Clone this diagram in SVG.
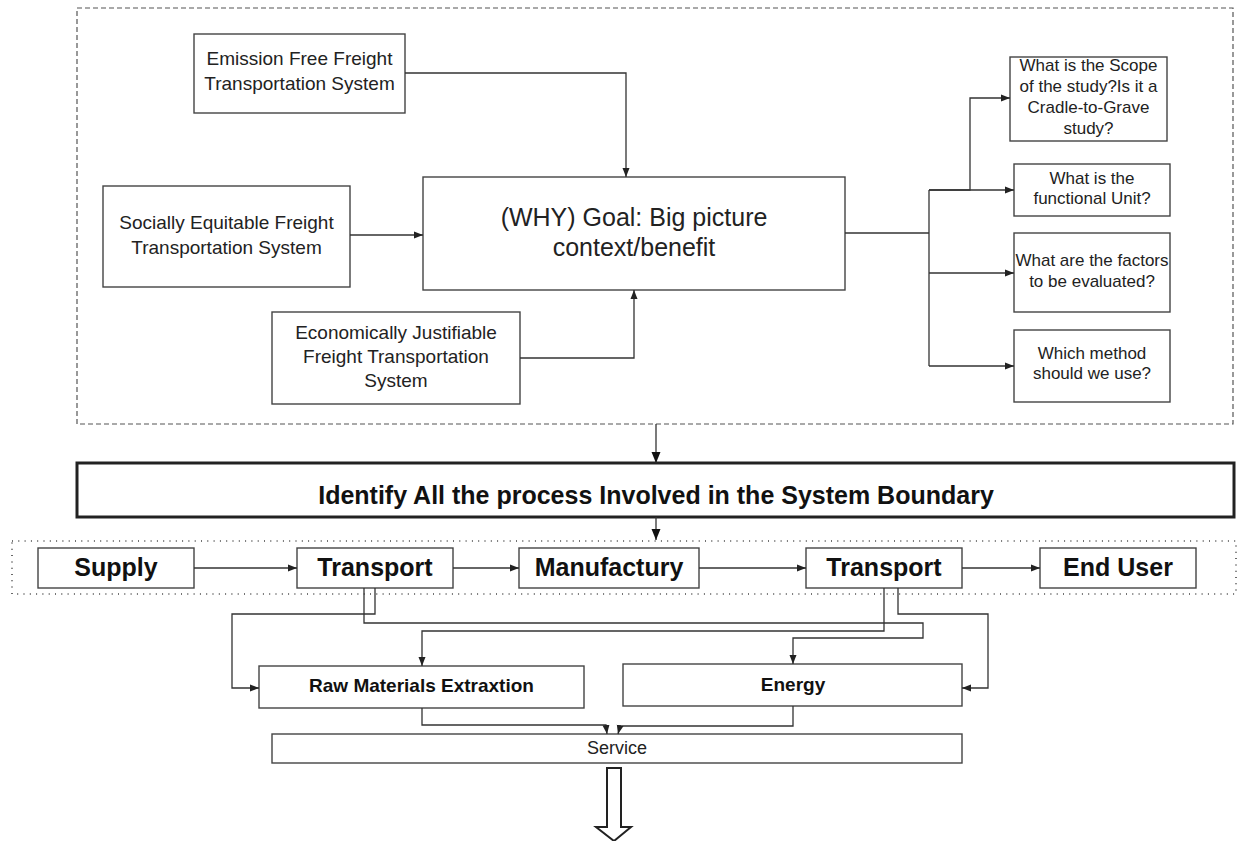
<svg xmlns="http://www.w3.org/2000/svg" width="1239" height="841" viewBox="0 0 1239 841">
<defs>
<style>
.box{fill:#fff;stroke:#444;stroke-width:1.4}
.t{font-family:"Liberation Sans",Arial,sans-serif;fill:#222;text-anchor:middle}
.b{font-weight:bold;fill:#111}
.c{fill:none;stroke:#333;stroke-width:1.3}
</style>
<marker id="ar" markerWidth="10" markerHeight="8" refX="9" refY="4" orient="auto" markerUnits="userSpaceOnUse">
<path d="M0,0.5 L9,4 L0,7.5 Z" fill="#222"/>
</marker>
<marker id="arb" markerWidth="12" markerHeight="10" refX="11" refY="5" orient="auto" markerUnits="userSpaceOnUse">
<path d="M0,0.5 L11,5 L0,9.5 Z" fill="#111"/>
</marker>
</defs>
<rect width="1239" height="841" fill="#fff"/>

<g id="boundary-top">
<rect x="77" y="8" width="1156" height="416" fill="none" stroke="#555" stroke-width="1.2" stroke-dasharray="5 3"/>
</g>
<g id="boundary-process">
<rect x="12" y="541" width="1224" height="53" fill="none" stroke="#444" stroke-width="1.6" stroke-dasharray="1 5.3"/>
</g>

<g id="emission">
<rect class="box" x="194" y="34" width="211" height="79"/>
<text class="t" x="299.5" y="65" font-size="19">Emission Free Freight</text>
<text class="t" x="299.5" y="90" font-size="19">Transportation System</text>
</g>
<g id="socially">
<rect class="box" x="103" y="186" width="247" height="101"/>
<text class="t" x="226.5" y="229" font-size="19">Socially Equitable Freight</text>
<text class="t" x="226.5" y="254" font-size="19">Transportation System</text>
</g>
<g id="economically">
<rect class="box" x="272" y="312" width="248" height="92"/>
<text class="t" x="396" y="339" font-size="19">Economically Justifiable</text>
<text class="t" x="396" y="363" font-size="19">Freight Transportation</text>
<text class="t" x="396" y="387" font-size="19">System</text>
</g>
<g id="goal">
<rect class="box" x="423" y="177" width="422" height="113"/>
<text class="t" x="634" y="226" font-size="25">(WHY) Goal: Big picture</text>
<text class="t" x="634" y="256" font-size="25">context/benefit</text>
</g>
<g id="scope">
<rect class="box" x="1010" y="57" width="157" height="84"/>
<text class="t" x="1088.5" y="71" font-size="17">What is the Scope</text>
<text class="t" x="1088.5" y="92" font-size="17">of the study?Is it a</text>
<text class="t" x="1088.5" y="113" font-size="17">Cradle-to-Grave</text>
<text class="t" x="1088.5" y="134" font-size="17">study?</text>
</g>
<g id="unit">
<rect class="box" x="1014" y="164" width="156" height="52"/>
<text class="t" x="1092" y="184" font-size="17">What is the</text>
<text class="t" x="1092" y="204" font-size="17">functional Unit?</text>
</g>
<g id="factors">
<rect class="box" x="1014" y="233" width="156" height="79"/>
<text class="t" x="1092" y="266" font-size="17">What are the factors</text>
<text class="t" x="1092" y="287" font-size="17">to be evaluated?</text>
</g>
<g id="method">
<rect class="box" x="1014" y="330" width="156" height="72"/>
<text class="t" x="1092" y="359" font-size="17">Which method</text>
<text class="t" x="1092" y="379" font-size="17">should we use?</text>
</g>

<g id="identify">
<rect x="77" y="463" width="1157" height="54" fill="#fff" stroke="#222" stroke-width="3"/>
<text class="t b" x="656" y="504" font-size="25">Identify All the process Involved in the System Boundary</text>
</g>

<g id="supply">
<rect class="box" x="38" y="548" width="156" height="40"/>
<text class="t b" x="116" y="576" font-size="25">Supply</text>
</g>
<g id="transport1">
<rect class="box" x="297" y="548" width="156" height="40"/>
<text class="t b" x="375" y="576" font-size="25">Transport</text>
</g>
<g id="manufactury">
<rect class="box" x="519" y="548" width="180" height="40"/>
<text class="t b" x="609" y="576" font-size="25">Manufactury</text>
</g>
<g id="transport2">
<rect class="box" x="806" y="548" width="156" height="40"/>
<text class="t b" x="884" y="576" font-size="25">Transport</text>
</g>
<g id="enduser">
<rect class="box" x="1040" y="548" width="156" height="40"/>
<text class="t b" x="1118" y="576" font-size="25">End User</text>
</g>

<g id="raw">
<rect class="box" x="259" y="666" width="325" height="42"/>
<text class="t b" x="421.5" y="692" font-size="19">Raw Materials Extraxtion</text>
</g>
<g id="energy">
<rect class="box" x="623" y="664" width="339" height="42"/>
<text class="t b" x="793" y="691" font-size="19">Energy</text>
</g>
<g id="service">
<rect class="box" x="272" y="734" width="690" height="29"/>
<text class="t" x="617" y="754" font-size="18">Service</text>
</g>

<g id="connectors">
<path class="c" d="M405 73 H626 V177" marker-end="url(#ar)"/>
<path class="c" d="M350 235 H423" marker-end="url(#ar)"/>
<path class="c" d="M520 358 H634 V290" marker-end="url(#ar)"/>
<path class="c" d="M845 233 H929"/>
<path class="c" d="M929 190 V366"/>
<path class="c" d="M929 190 H970 V98 H1010" marker-end="url(#ar)"/>
<path class="c" d="M929 190 H1014" marker-end="url(#ar)"/>
<path class="c" d="M929 273 H1014" marker-end="url(#ar)"/>
<path class="c" d="M929 366 H1014" marker-end="url(#ar)"/>
<path class="c" d="M656 424 V463" stroke-width="2.2" marker-end="url(#arb)"/>
<path class="c" d="M656 517 V540" stroke-width="2.2" marker-end="url(#arb)"/>
<path class="c" d="M194 568 H297" marker-end="url(#ar)"/>
<path class="c" d="M453 568 H519" marker-end="url(#ar)"/>
<path class="c" d="M699 568 H806" marker-end="url(#ar)"/>
<path class="c" d="M962 568 H1040" marker-end="url(#ar)"/>
<path class="c" d="M375 588 V614 H232 V688 H259" marker-end="url(#ar)"/>
<path class="c" d="M364 588 V623 H923 V638 H793 V664" marker-end="url(#ar)"/>
<path class="c" d="M884 588 V631 H422 V666" marker-end="url(#ar)"/>
<path class="c" d="M898 588 V614 H988 V688 H962" marker-end="url(#ar)"/>
<path class="c" d="M422 708 V725 H606 L607 734" marker-end="url(#ar)"/>
<path class="c" d="M793 706 V726 H620 L618 734" marker-end="url(#ar)"/>
<polygon points="607,768 621,768 621,827 631,827 614,841 596,827 607,827" fill="#fff" stroke="#222" stroke-width="2"/>
</g>
</svg>
